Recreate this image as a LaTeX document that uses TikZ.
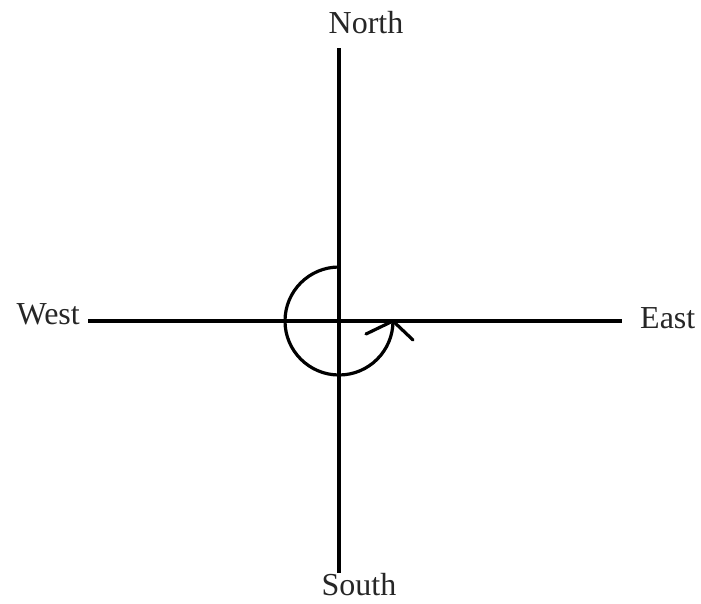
\documentclass[tikz,border=0pt]{standalone}
\usepackage{fontspec}
\setmainfont{Liberation Serif}
\begin{document}
\begin{tikzpicture}[x=1pt,y=-1pt,
  axis/.style={line width=3.2pt},
  lab/.style={inner sep=0pt,font=\fontsize{32}{38}\selectfont,text=black!85}]
\useasboundingbox (0,0) rectangle (701,603);
\coordinate (O) at (339,321);
\coordinate (N) at (339,48);
\coordinate (S) at (339,573);
\coordinate (W) at (88,321);
\coordinate (E) at (622,321);
\draw[axis] (N) -- (S);
\draw[axis] (W) -- (E);
\node[lab,anchor=base] (north) at (366,33) {North};
\node[lab,anchor=base] (south) at (359,595) {South};
\node[lab,anchor=base east] (west) at (80,324) {West};
\node[lab,anchor=base west] (east) at (640,328) {East};
\draw[axis] (339,267) arc[start angle=-90,end angle=-360,radius=54] coordinate (tip);
\coordinate (h1) at (366,334);
\coordinate (h2) at (413,340);
\draw[axis,line cap=round,line join=round] (h1) -- (tip) -- (h2);
\end{tikzpicture}
\end{document}
